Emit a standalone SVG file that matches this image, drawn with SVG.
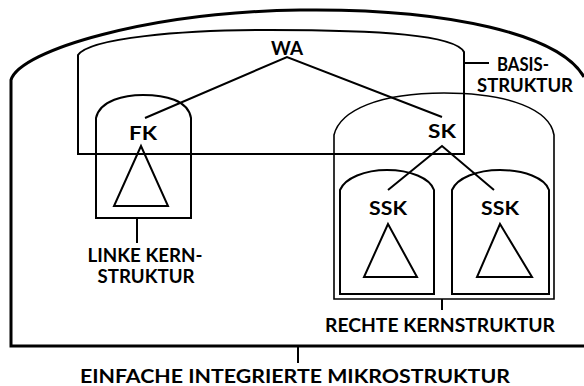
<svg xmlns="http://www.w3.org/2000/svg" width="584" height="386" viewBox="0 0 584 386">
<style>
.ln{fill:none;stroke:#000;stroke-width:2;stroke-linejoin:miter}
.th{fill:none;stroke:#000;stroke-width:3}
.tn{fill:none;stroke:#000;stroke-width:1.6}
text{font-family:"Lato","Liberation Sans",sans-serif;font-weight:bold;font-size:18px;fill:#000}
.m{text-anchor:middle}
</style>
<rect width="584" height="386" fill="#fff"/>
<g id="mikrostruktur">
<path class="th" d="M584,346 L11,346 L11,80 C20,50 150,12 300,10 C450,8 560,35 584,77"/>
<line class="ln" x1="298" y1="346" x2="298" y2="363"/>
<text x="295" y="383" class="m" textLength="430" lengthAdjust="spacingAndGlyphs">EINFACHE INTEGRIERTE MIKROSTRUKTUR</text>
</g>
<g id="basisstruktur">
<path class="ln" d="M464,154 L78,154 L78,55 C90,38 180,30 270,30 C380,30 455,35 464,52 Z"/>
<line class="ln" x1="464" y1="63" x2="489" y2="63"/>
<text x="497" y="71" textLength="52" lengthAdjust="spacingAndGlyphs">BASIS-</text>
<text x="477" y="92" textLength="96" lengthAdjust="spacingAndGlyphs">STRUKTUR</text>
</g>
<g id="wa">
<text x="287" y="55" class="m" textLength="32" lengthAdjust="spacingAndGlyphs">WA</text>
</g>
<g id="fk">
<path class="ln" d="M96,218 L96,118 C100,100 125,95 143,95 C165,95 188,100 191,118 L191,218 Z"/>
<text x="143" y="140" class="m" textLength="28" lengthAdjust="spacingAndGlyphs">FK</text>
<polygon class="ln" points="141,146 114,206 168,206"/>
<line class="ln" x1="137" y1="218" x2="137" y2="243"/>
<text x="145" y="262" class="m" textLength="115" lengthAdjust="spacingAndGlyphs">LINKE KERN-</text>
<text x="146" y="283" class="m" textLength="97" lengthAdjust="spacingAndGlyphs">STRUKTUR</text>
</g>
<g id="sk">
<path class="tn" d="M334,299 L334,135 C340,110 380,93 444,93 C510,93 550,110 554,135 L554,299 Z"/>
<text x="442" y="138" class="m" textLength="28" lengthAdjust="spacingAndGlyphs">SK</text>
<line class="ln" x1="442" y1="299" x2="442" y2="310"/>
<text x="440" y="332" class="m" textLength="230" lengthAdjust="spacingAndGlyphs">RECHTE KERNSTRUKTUR</text>
</g>
<g id="ssk1">
<path class="ln" d="M340,294 L340,190 C345,178 365,170 387,170 C410,170 430,178 434,190 L434,294 Z"/>
<text x="388" y="215" class="m" textLength="38" lengthAdjust="spacingAndGlyphs">SSK</text>
<polygon class="ln" points="388,224 364,277 417,277"/>
</g>
<g id="ssk2">
<path class="ln" d="M452,294 L452,190 C457,178 477,170 500,170 C524,170 545,178 549,190 L549,294 Z"/>
<text x="500" y="215" class="m" textLength="38" lengthAdjust="spacingAndGlyphs">SSK</text>
<polygon class="ln" points="500,224 477,277 532,277"/>
</g>
<g id="connectors">
<polyline class="ln" points="145,118 287,57 442,117"/>
<polyline class="ln" points="388,190 442,146 494,190"/>
</g>
</svg>
